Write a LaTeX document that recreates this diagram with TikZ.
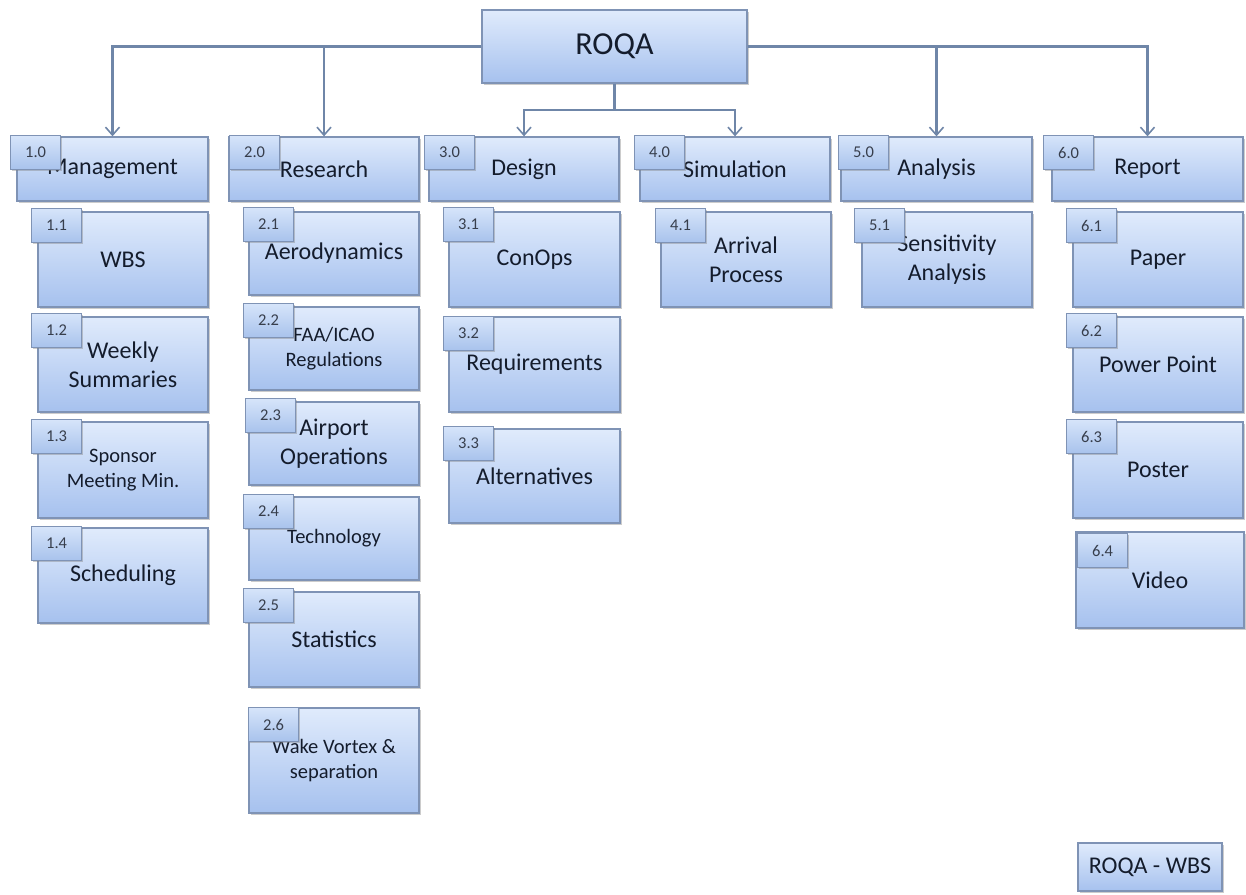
\documentclass[tikz,border=0pt]{standalone}
\usepackage{fontspec}
\setmainfont{Carlito}
\usetikzlibrary{arrows.meta,shadows}
\definecolor{boxtop}{HTML}{E0EBFC}
\definecolor{boxbot}{HTML}{A6C1EE}
\definecolor{boxedge}{HTML}{7F93B5}
\definecolor{linecol}{HTML}{6F86A8}
\definecolor{txt}{HTML}{141C2C}
\definecolor{labtop}{HTML}{D6E4FA}
\definecolor{labbot}{HTML}{A8C2EC}
\tikzset{
  box/.style={rectangle, draw=boxedge, line width=1.3pt, top color=boxtop, bottom color=boxbot,
    inner sep=2pt, align=center, text=txt,
    drop shadow={shadow xshift=1.5pt, shadow yshift=-2.2pt, opacity=0.4}},
  lab/.style={rectangle, draw=boxedge, line width=1.3pt, top color=labtop, bottom color=labbot,
    inner sep=0pt, text=txt!85, anchor=north west, minimum width=50pt, minimum height=34pt,
    font=\fontsize{16.5}{19}\selectfont,
    drop shadow={shadow xshift=1.2pt, shadow yshift=-1.8pt, opacity=0.4}},
  big/.style={font=\fontsize{24}{29}\selectfont},
  small/.style={font=\fontsize{20.5}{25}\selectfont},
  conn/.style={draw=linecol, line width=2.1pt,
    -{Straight Barb[length=8pt,width=14pt,line width=1.6pt]}},
}
% name, x, y, w, h, options, text, number, label position
\newcommand\wbsbox[9]{%
  \node[box,#6, minimum width=#4pt, minimum height=#5pt] (#1) at ({#2+#4/2},{#3+#5/2}) {#7};
  \node[lab] (#1n) at (#9) {#8};
}
\begin{document}
\begin{tikzpicture}[x=1pt,y=-1pt]
\useasboundingbox (0,0) rectangle (1246,894);

% root
\node[box, minimum width=265pt, minimum height=73pt, font=\fontsize{32}{38}\selectfont]
  (roqa) at (614.5,46.5) {ROQA};

% level 1
\wbsbox{m}{17}{137}{191}{64}{big}{Management}{1.0}{10,135}
\wbsbox{r}{229}{137}{190}{64}{big}{Research}{2.0}{229,135}
\wbsbox{d}{429}{137}{190}{64}{big}{Design}{3.0}{424,135}
\wbsbox{s}{640}{137}{190}{64}{big}{Simulation}{4.0}{634,135}
\wbsbox{a}{841}{137}{191}{64}{big}{Analysis}{5.0}{838,135}
\wbsbox{rep}{1052}{137}{191}{64}{big}{Report}{6.0}{1043,135}

% connectors
\coordinate (split) at (roqa.south |- 0,110);
\draw[conn] (roqa.west) -| (m.north);
\draw[conn] (roqa.west) -| (r.north);
\draw[conn] (roqa.east) -| (a.north);
\draw[conn] (roqa.east) -| (rep.north);
\draw[conn] (roqa.south) -- (split) -| (d.north);
\draw[conn] (split) -| (s.north);

% management
\wbsbox{m1}{38}{212}{170}{95}{big}{WBS}{1.1}{31,208}
\wbsbox{m2}{38}{317}{170}{95}{big}{Weekly\\Summaries}{1.2}{31,313}
\wbsbox{m3}{38}{422}{170}{96}{small}{Sponsor\\Meeting Min.}{1.3}{31,419}
\wbsbox{m4}{38}{528}{170}{95}{big}{Scheduling}{1.4}{31,526}

% research
\wbsbox{r1}{249}{212}{170}{83}{big}{Aerodynamics}{2.1}{243,207}
\wbsbox{r2}{249}{307}{170}{83}{small}{FAA/ICAO\\Regulations}{2.2}{243,303}
\wbsbox{r3}{249}{402}{170}{83}{big}{Airport\\Operations}{2.3}{245,398}
\wbsbox{r4}{249}{497}{170}{83}{small}{Technology}{2.4}{243,494}
\wbsbox{r5}{249}{592}{170}{95}{big}{Statistics}{2.5}{243,588}
\wbsbox{r6}{249}{708}{170}{105}{small}{Wake Vortex \&\\separation}{2.6}{248,707}

% design
\wbsbox{d1}{449}{212}{171}{95}{big}{ConOps}{3.1}{443,207}
\wbsbox{d2}{449}{317}{171}{95}{big}{Requirements}{3.2}{443,316}
\wbsbox{d3}{449}{429}{171}{94}{big}{Alternatives}{3.3}{443,426}

% simulation
\wbsbox{s1}{661}{212}{170}{95}{big}{Arrival\\Process}{4.1}{655,208}

% analysis
\wbsbox{a1}{862}{212}{170}{95}{big}{Sensitivity\\Analysis}{5.1}{854,208}

% report
\wbsbox{rep1}{1073}{212}{170}{95}{big}{Paper}{6.1}{1066,208}
\wbsbox{rep2}{1073}{317}{170}{95}{big}{Power Point}{6.2}{1066,313}
\wbsbox{rep3}{1073}{422}{170}{96}{big}{Poster}{6.3}{1066,419}
\wbsbox{rep4}{1076}{532}{168}{96}{big}{Video}{6.4}{1077,533}

% title tag
\node[box, minimum width=144pt, minimum height=48pt, font=\fontsize{24}{29}\selectfont]
  (tag) at (1150,867) {ROQA - WBS};
\end{tikzpicture}
\end{document}
